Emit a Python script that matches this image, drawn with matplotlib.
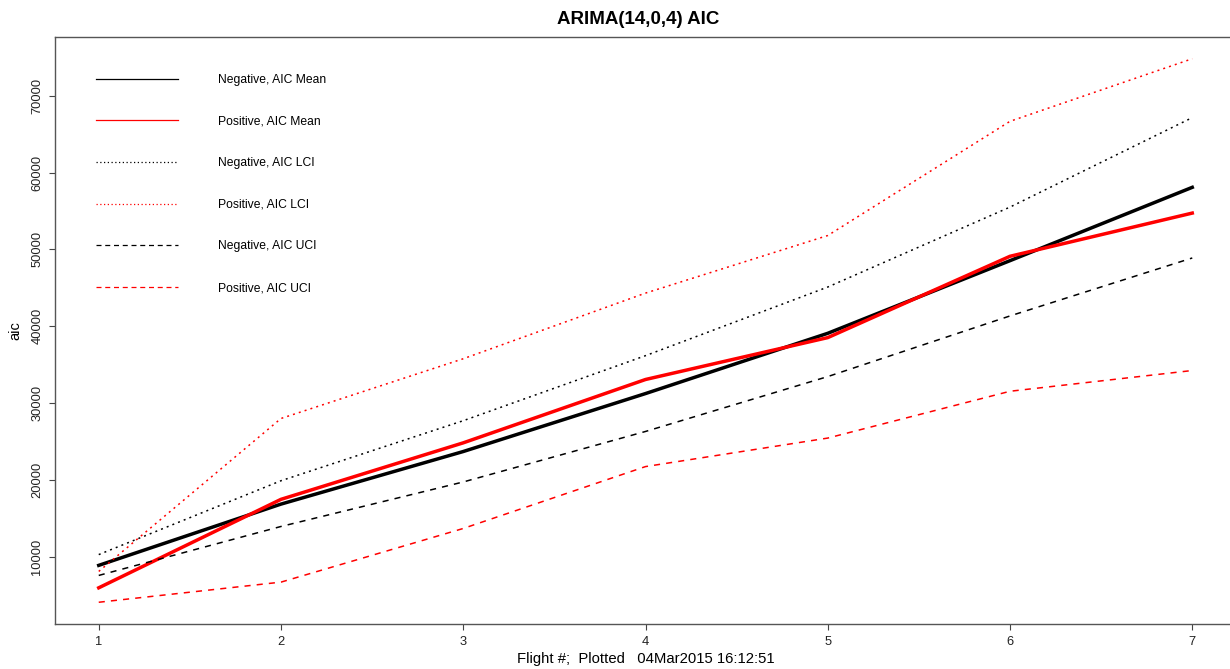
import numpy as np
import matplotlib
matplotlib.use('Agg')
import matplotlib.pyplot as plt
from matplotlib.lines import Line2D

plt.rcParams['font.family'] = ['Liberation Sans', 'DejaVu Sans']

flight = [1, 2, 3, 4, 5, 6, 7]

neg_mean = [8890, 16860, 23700, 31240, 39080, 48530, 58070]
pos_mean = [5970, 17480, 24830, 33070, 38520, 49100, 54720]
neg_lci = [10290, 19900, 27710, 36170, 45100, 55500, 67140]
pos_lci = [8100, 28000, 35770, 44310, 51800, 66660, 74800]
neg_uci = [7580, 13950, 19740, 26310, 33450, 41340, 48880]
pos_uci = [4090, 6710, 13690, 21740, 25450, 31540, 34240]

labels = ['Negative, AIC Mean', 'Positive, AIC Mean',
          'Negative, AIC LCI', 'Positive, AIC LCI',
          'Negative, AIC UCI', 'Positive, AIC UCI']

series = [neg_mean, pos_mean, neg_lci, pos_lci, neg_uci, pos_uci]
colors = ['black', 'red', 'black', 'red', 'black', 'red']
dotted = (0, (1.3, 2.7))
dashed = (0, (4, 4))
styles = ['-', '-', dotted, dotted, dashed, dashed]
widths = [2.5, 2.5, 1.1, 1.1, 1.1, 1.1]

fig = plt.figure(figsize=(12.3, 6.69), dpi=100)
W, H = 1230, 669
# right side of the box runs past the edge of the image
ax = fig.add_axes([55 / W, (H - 624) / H, 1181 / W, 587 / H])

for ys, c, ls, lw in zip(series, colors, styles, widths):
    ax.plot(flight, ys, color=c, linestyle=ls, linewidth=lw)

# R-style 4% padding on both axes
allv = np.concatenate([np.array(s) for s in series])
lo, hi = allv.min(), allv.max()
pad = 0.04 * (hi - lo)
ax.set_ylim(lo - pad, hi + pad)
ax.set_xlim(1 - 0.04 * 6, 7 + 0.04 * 6)

ax.set_xticks(flight)
ax.set_yticks([10000, 20000, 30000, 40000, 50000, 60000, 70000])
ax.tick_params(axis='both', direction='out', length=4.5, width=0.8,
               color='#444444', labelsize=9.3, labelcolor='#222222', pad=4)
for lab in ax.get_yticklabels():
    lab.set_rotation(90)
    lab.set_va('center')

for sp in ax.spines.values():
    sp.set_color('#555555')
    sp.set_linewidth(1.0)

ax.set_title('ARIMA(14,0,4) AIC', fontsize=13.5, fontweight='bold', pad=9, x=0.494)
ax.set_xlabel('Flight #;  Plotted   04Mar2015 16:12:51', fontsize=10.7, labelpad=3)
ax.set_ylabel('aic', fontsize=10.5, labelpad=6)

handles = [Line2D([], [], color=c, linestyle=ls, linewidth=0.9)
           for c, ls in zip(colors, ['-', '-', (0, (1, 2)), (0, (1, 2)),
                                     (0, (4, 3)), (0, (4, 3))])]
ax.legend(handles, labels, loc='upper left', bbox_to_anchor=(41 / 1181, 1 - 37 / 587),
          frameon=False, fontsize=8.7, handlelength=6.8, handletextpad=3.3,
          labelspacing=2.45, borderaxespad=0, borderpad=0)

fig.savefig('out.png', dpi=100)
